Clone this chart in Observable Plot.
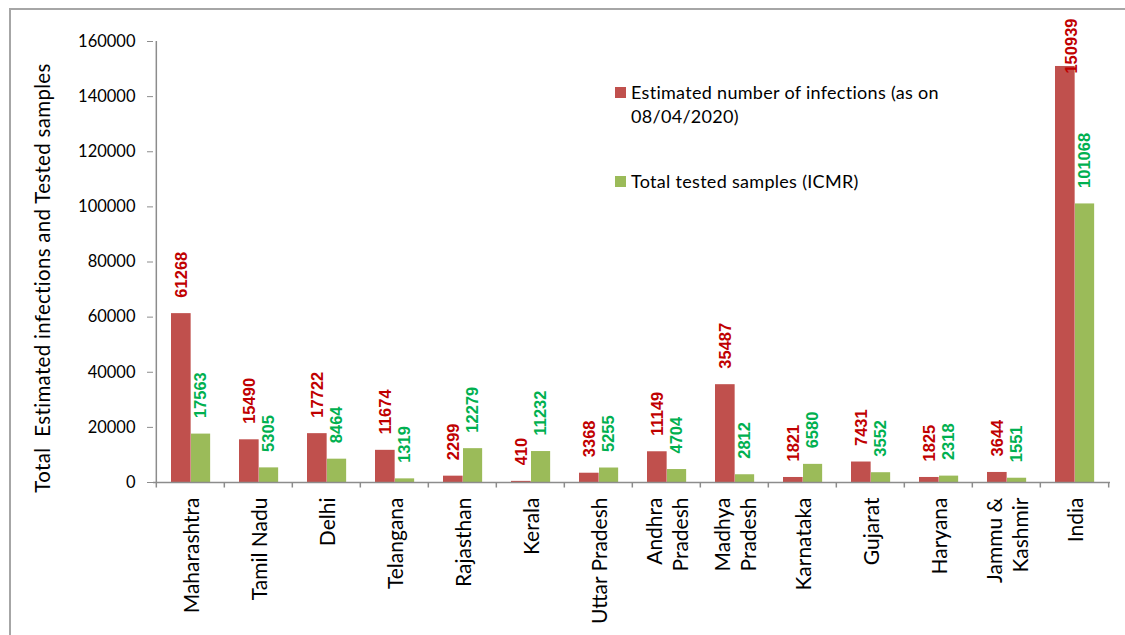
<!DOCTYPE html>
<html><head><meta charset="utf-8">
<script src="https://cdn.jsdelivr.net/npm/d3@7"></script>
<script src="https://cdn.jsdelivr.net/npm/@observablehq/plot@0.6"></script>
<style>
body{margin:0;width:1125px;height:635px;overflow:hidden;background:#fff;position:relative;font-family:Lato,sans-serif}
#frame{position:absolute;left:9px;top:8px;width:1300px;height:800px;border:2px solid #a6a6a6;box-sizing:border-box}
#chart{position:absolute;left:0;top:0}
.leg{position:absolute;font-size:18px;letter-spacing:0.3px;color:#000;line-height:24px;white-space:nowrap}
.sw{position:absolute;width:11px;height:11px}
#ytitle{position:absolute;left:30px;top:528px;width:500px;height:24px;line-height:24px;text-align:center;transform-origin:0 0;transform:rotate(-90deg);font-size:20.5px;letter-spacing:0.3px;white-space:pre;color:#000}
</style></head><body>
<div id="frame"></div>
<div id="chart"></div>
<div id="ytitle">Total  Estimated infections and Tested samples</div>
<div class="sw" style="left:615px;top:87px;background:#C0504D"></div>
<div class="leg" style="left:631px;top:80px">Estimated number of infections (as on<br>08/04/2020)</div>
<div class="sw" style="left:615px;top:176px;background:#9BBB59"></div>
<div class="leg" style="left:631px;top:169px">Total tested samples (ICMR)</div>
<script>
const states = ["Maharashtra","Tamil Nadu","Delhi","Telangana","Rajasthan","Kerala","Uttar Pradesh","Andhra Pradesh","Madhya Pradesh","Karnataka","Gujarat","Haryana","Jammu & Kashmir","India"];
const stateLabels = ["Maharashtra","Tamil Nadu","Delhi","Telangana","Rajasthan","Kerala","Uttar Pradesh","Andhra\nPradesh","Madhya\nPradesh","Karnataka","Gujarat","Haryana","Jammu &\nKashmir","India"];
const infections = [61268,15490,17722,11674,2299,410,3368,11149,35487,1821,7431,1825,3644,150939];
const tested = [17563,5305,8464,1319,12279,11232,5255,4704,2812,6580,3552,2318,1551,101068];
const yTicks = [0,20000,40000,60000,80000,100000,120000,140000,160000];

const inf = states.map((s,i)=>({state:s, value:infections[i]}));
const tst = states.map((s,i)=>({state:s, value:tested[i]}));
const labelOf = new Map(states.map((s,i)=>[s, stateLabels[i]]));

const W = 1125, H = 635, mL = 153, mR = 15, mT = 41, mB = 153;
const bw = (W - mL - mR) / states.length;
const red = "#C0504D", green = "#9BBB59", axisC = "#8c8c8c";
const redInset = {insetLeft: 15, insetRight: bw - 35};
const greenInset = {insetLeft: 35, insetRight: bw - 54.5};
const redDx = (redInset.insetLeft - redInset.insetRight) / 2;
const greenDx = (greenInset.insetLeft - greenInset.insetRight) / 2;
const labelFont = {fontFamily: "Liberation Sans, Arial, sans-serif", fontWeight: "bold", fontSize: 16.5, rotate: -90};
const overflow = d => d.value > 140000;

const chart = Plot.plot({
  width: W, height: H,
  marginLeft: mL, marginRight: mR, marginTop: mT, marginBottom: mB,
  style: {overflow: "visible", background: "transparent", fontFamily: "Lato, sans-serif"},
  x: {domain: states, padding: 0},
  y: {domain: [0, 160000], range: [H - mB, mT]},
  marks: [
    Plot.axisY({ticks: yTicks, tickSize: 6, tickPadding: 12, fontSize: 16.5, stroke: axisC, fill: "black", tickFormat: d => String(d), label: null}),
    Plot.axisX({tickSize: 0, tickPadding: 15, tickRotate: -90, fontSize: 21, lineHeight: 1.25, fill: "black", tickFormat: d => labelOf.get(d), label: null}),
    Plot.barY(inf, {x: "state", y: "value", fill: red, ...redInset}),
    Plot.barY(tst, {x: "state", y: "value", fill: green, ...greenInset}),
    Plot.ruleY([0], {stroke: axisC, strokeWidth: 1.5}),
    Plot.ruleX([states[0]], {dx: -bw/2, y1: 0, y2: 160000, stroke: axisC, strokeWidth: 1.5}),
    Plot.ruleX(states, {dx: -bw/2, y1: 0, y2: -2000, stroke: axisC, strokeWidth: 1.5}),
    Plot.ruleX([states[states.length-1]], {dx: bw/2, y1: 0, y2: -2000, stroke: axisC, strokeWidth: 1.5}),
    Plot.text(inf.filter(d => !overflow(d)), {x: "state", y: "value", text: d => String(d.value), dx: redDx, dy: -16, textAnchor: "start", fill: "#C00000", ...labelFont}),
    Plot.text(inf.filter(overflow), {x: "state", frameAnchor: "top", text: d => String(d.value), dx: redDx, dy: -23, textAnchor: "end", fill: "#C00000", ...labelFont}),
    Plot.text(tst, {x: "state", y: "value", text: d => String(d.value), dx: greenDx, dy: -16, textAnchor: "start", fill: "#00B050", ...labelFont})
  ]
});
document.getElementById("chart").appendChild(chart);
</script>
</body></html>
